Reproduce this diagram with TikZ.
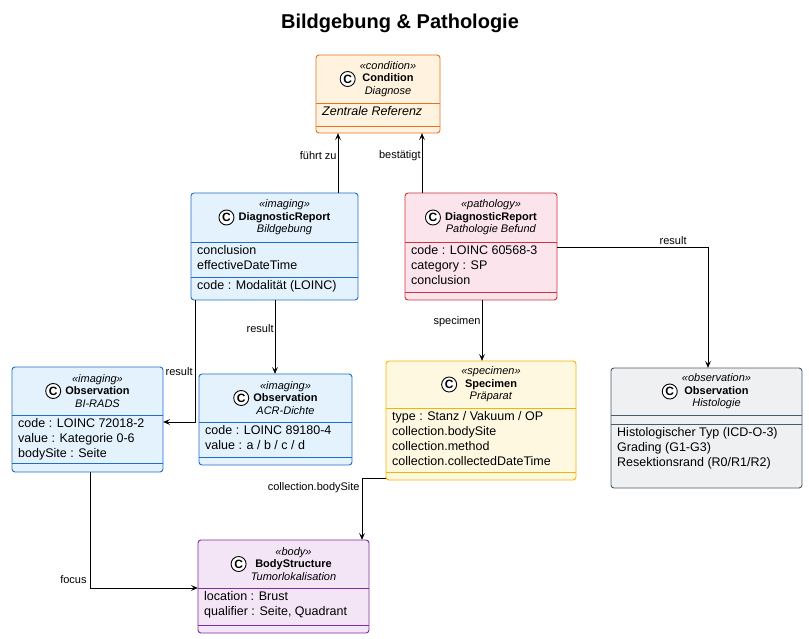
\documentclass[tikz,border=0pt]{standalone}
\usepackage{fontspec}
\setmainfont{Liberation Sans}
\usetikzlibrary{arrows.meta}
\definecolor{condB}{HTML}{E8711C}\definecolor{condF}{HTML}{FFF3E0}
\definecolor{imgB}{HTML}{1E6FC8}\definecolor{imgF}{HTML}{E3F2FD}
\definecolor{patB}{HTML}{D0343A}\definecolor{patF}{HTML}{FCE4EC}
\definecolor{speB}{HTML}{F4B400}\definecolor{speF}{HTML}{FFF8E1}
\definecolor{obsB}{HTML}{4A5B6B}\definecolor{obsF}{HTML}{EEF0F2}
\definecolor{bodB}{HTML}{7B2FA8}\definecolor{bodF}{HTML}{F3E5F5}
\tikzset{
 cond/.style={draw=condB,fill=condF}, img/.style={draw=imgB,fill=imgF},
 pat/.style={draw=patB,fill=patF}, spe/.style={draw=speB,fill=speF},
 obs/.style={draw=obsB,fill=obsF}, bod/.style={draw=bodB,fill=bodF},
 hdr/.style={align=center,inner sep=0pt,font=\fontsize{11}{12.5}\selectfont},
 attr/.style={anchor=north west,align=left,inner sep=0pt,font=\fontsize{12.5}{15}\selectfont},
 icon/.style={circle,draw=black,fill=white,line width=0.9pt,inner sep=0pt,minimum size=15pt,font=\bfseries\fontsize{12}{12}\selectfont},
 conn/.style={-{Stealth[length=7pt,width=6pt,inset=3pt]},line width=0.8pt},
 lab/.style={font=\fontsize{11}{13}\selectfont,inner sep=1pt}
}
% name x1 y1 x2 y2 h1 h2 style header
\newcommand{\cls}[9]{%
 \path[#8,rounded corners=3pt,line width=0.9pt] (#2,#3) rectangle (#4,#5);
 \node[inner sep=0,minimum width={#4-#2},minimum height={#5-#3}] (#1) at ({(#2+#4)/2},{(#3+#5)/2}) {};
 \draw[#8,line width=0.9pt] (#2,#6) -- (#4,#6);
 \draw[#8,line width=0.9pt] (#2,#7) -- (#4,#7);
 \node[hdr] (#1h) at ({(#2+#4)/2+10},{(#3+#6)/2}) {#9};
 \node[icon] (#1i) at ([xshift=-12pt]#1h.west) {C};
}
\newcommand{\hd}[3]{\textit{«#1»}\\\textbf{#2}\\\textit{#3}}
\begin{document}
\begin{tikzpicture}[x=1pt,y=-1pt]
\useasboundingbox (0,0) rectangle (809,639);
\fill[white] (0,0) rectangle (809,639);
\node[font=\bfseries\fontsize{20}{24}\selectfont] (title) at (400,23) {Bildgebung \& Pathologie};

\cls{cond}{316}{55}{440}{133}{103}{126}{cond}{\hd{condition}{Condition}{Diagnose}}
\node[attr,font=\itshape\fontsize{12.5}{15}\selectfont] (conda) at (322,106) {Zentrale Referenz};

\cls{dri}{191}{193}{358}{300}{242}{277}{img}{\hd{imaging}{DiagnosticReport}{Bildgebung}}
\node[attr] (dria) at (197,245) {conclusion\\effectiveDateTime};
\node[attr] (drib) at (197,280) {code : Modalität (LOINC)};

\cls{drp}{405}{193}{557}{300}{242}{292}{pat}{\hd{pathology}{DiagnosticReport}{Pathologie Befund}}
\node[attr] (drpa) at (411,245) {code : LOINC 60568-3\\category : SP\\conclusion};

\cls{bir}{12}{367}{163}{472}{415}{463}{img}{\hd{imaging}{Observation}{BI-RADS}}
\node[attr] (bira) at (18,418) {code : LOINC 72018-2\\value : Kategorie 0-6\\bodySite : Seite};

\cls{acr}{199}{374}{352}{465}{422}{457}{img}{\hd{imaging}{Observation}{ACR-Dichte}}
\node[attr] (acra) at (205,425) {code : LOINC 89180-4\\value : a / b / c / d};

\cls{spe}{386}{361}{576}{480}{408}{472}{spe}{\hd{specimen}{Specimen}{Präparat}}
\node[attr] (spea) at (392,411) {type : Stanz / Vakuum / OP\\collection.bodySite\\collection.method\\collection.collectedDateTime};

\cls{his}{611}{368}{802}{488}{415}{424}{obs}{\hd{observation}{Observation}{Histologie}}
\node[attr] (hisa) at (617,427) {Histologischer Typ (ICD-O-3)\\Grading (G1-G3)\\Resektionsrand (R0/R1/R2)};

\cls{bod}{198}{540}{369}{633}{588}{625}{bod}{\hd{body}{BodyStructure}{Tumorlokalisation}}
\node[attr] (boda) at (204,591) {location : Brust\\qualifier : Seite, Quadrant};

\coordinate (c1) at (708,247);
\coordinate (c2) at (195,422);
\coordinate (c3) at (362,478);
\coordinate (c4) at (90,588);

\draw[conn] (dri.north -| 338,0) -- (cond.south -| 338,0) node[lab,pos=0.62,left] {führt zu};
\draw[conn] (drp.north -| 422,0) -- (cond.south -| 422,0) node[lab,pos=0.62,left] {bestätigt};
\draw[conn] (drp.east |- c1) -- (c1) -- (his.north -| c1) node[lab,pos=0,above left,xshift=-20pt,yshift=1pt] {result};
\draw[conn] (drp.south -| 482,0) -- (spe.north -| 482,0) node[lab,pos=0.35,left] {specimen};
\draw[conn] (dri.south -| 275,0) -- (acr.north -| 275,0) node[lab,pos=0.38,left] {result};
\draw[conn] (dri.south -| c2) -- (c2) -- (bir.east |- c2) node[lab,pos=0,above left,xshift=-1pt,yshift=45pt] {result};
\draw[conn] (spe.west |- c3) -- (c3) -- (bod.north -| c3) node[lab,pos=0,below left,xshift=-1pt,yshift=-3pt] {collection.bodySite};
\draw[conn] (bir.south -| c4) -- (c4) -- (bod.west |- c4) node[lab,pos=0,above left,yshift=3pt,xshift=-2pt] {focus};
\end{tikzpicture}
\end{document}
